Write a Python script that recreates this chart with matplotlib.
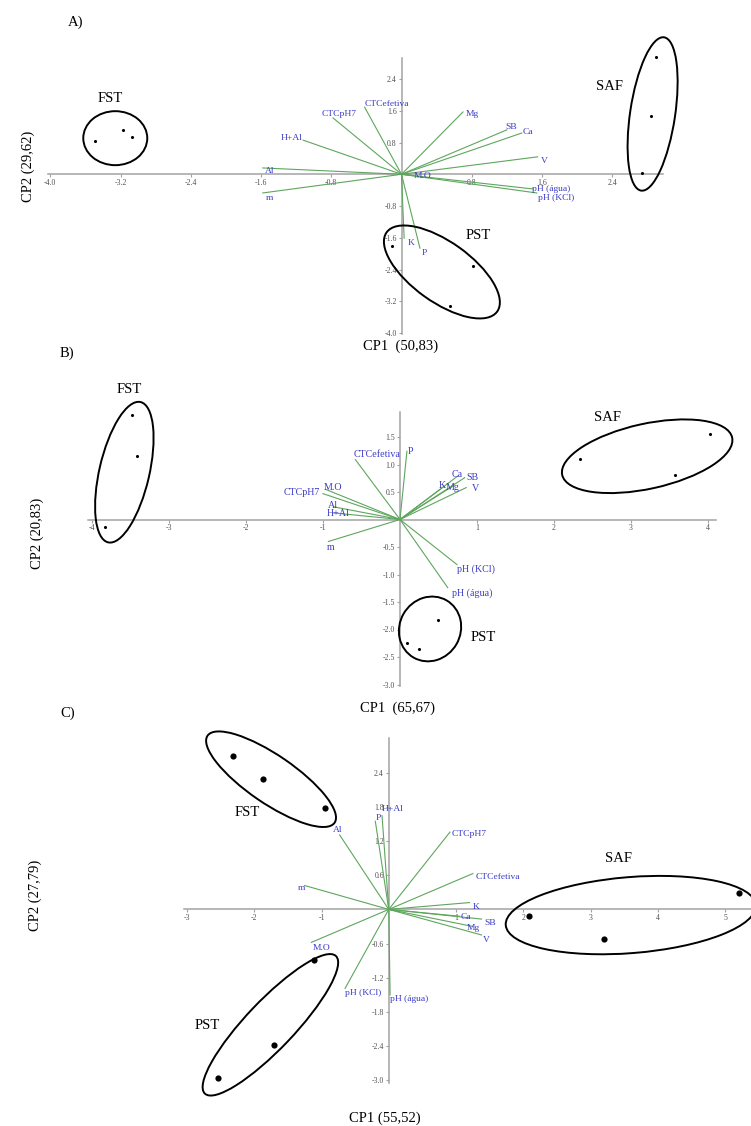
import matplotlib
matplotlib.use('Agg')
import matplotlib.pyplot as plt
from matplotlib.patches import Ellipse
from matplotlib.transforms import ScaledTranslation

plt.rcParams['font.family'] = ['Liberation Serif', 'DejaVu Serif']
plt.rcParams['axes.unicode_minus'] = False

# ---------------- data ----------------
group_names = ['FST', 'SAF', 'PST']
sample_groups = ['FST'] * 3 + ['SAF'] * 3 + ['PST'] * 3

# Panel A
vars_A = ['CTCefetiva', 'CTCpH7', 'H+Al', 'Al', 'm', 'M.O', 'Mg', 'SB', 'Ca', 'V',
          'pH (água)', 'pH (KCl)', 'K', 'P']
load_A_x = [-0.42, -0.78, -1.12, -1.58, -1.58, 0.11, 0.70, 1.20, 1.37, 1.55, 1.50, 1.54, 0.03, 0.21]
load_A_y = [1.69, 1.42, 0.86, 0.16, -0.47, -0.02, 1.57, 1.12, 1.04, 0.44, -0.37, -0.47, -1.61, -1.86]
scores_A_x = [-3.49, -3.17, -3.07, 2.90, 2.84, 2.74, -0.11, 0.81, 0.55]
scores_A_y = [0.84, 1.12, 0.94, 2.95, 1.47, 0.03, -1.81, -2.31, -3.32]
xticks_A = [-4.0, -3.2, -2.4, -1.6, -0.8, 0.8, 1.6, 2.4]
yticks_A = [-4.0, -3.2, -2.4, -1.6, -0.8, 0.8, 1.6, 2.4]

# Panel B
vars_B = ['CTCefetiva', 'P', 'M.O', 'CTCpH7', 'Al', 'H+Al', 'm', 'Ca', 'SB', 'K', 'Mg', 'V',
          'pH (KCl)', 'pH (água)']
load_B_x = [-0.58, 0.09, -0.97, -1.00, -0.86, -0.87, -0.93, 0.74, 0.84, 0.57, 0.70, 0.86, 0.74, 0.62]
load_B_y = [1.09, 1.24, 0.55, 0.47, 0.23, 0.12, -0.40, 0.78, 0.76, 0.60, 0.62, 0.58, -0.82, -1.24]
scores_B_x = [-3.48, -3.42, -3.83, 2.34, 4.03, 3.57, 0.49, 0.09, 0.25]
scores_B_y = [1.90, 1.15, -0.14, 1.10, 1.55, 0.81, -1.83, -2.25, -2.35]
xticks_B = [-4, -3, -2, -1, 1, 2, 3, 4]
yticks_B = [-3.0, -2.5, -2.0, -1.5, -1.0, -0.5, 0.5, 1.0, 1.5]

# Panel C
vars_C = ['H+Al', 'P', 'Al', 'm', 'CTCpH7', 'CTCefetiva', 'K', 'Ca', 'SB', 'Mg', 'V',
          'M.O', 'pH (KCl)', 'pH (água)']
load_C_x = [-0.10, -0.20, -0.73, -1.25, 0.91, 1.25, 1.20, 1.05, 1.38, 1.25, 1.38, -1.15, -0.65, 0.02]
load_C_y = [1.65, 1.55, 1.31, 0.42, 1.36, 0.63, 0.12, -0.12, -0.17, -0.30, -0.45, -0.58, -1.39, -1.50]
scores_C_x = [-2.32, -1.87, -0.95, 2.09, 3.20, 5.21, -1.11, -1.71, -2.54]
scores_C_y = [2.70, 2.29, 1.78, -0.12, -0.52, 0.29, -0.89, -2.39, -2.97]
xticks_C = [-3, -2, -1, 1, 2, 3, 4, 5]
yticks_C = [-3.0, -2.4, -1.8, -1.2, -0.6, 0.6, 1.2, 1.8, 2.4]

# ---------------- layout / style ----------------
W, H = 751, 1126
fig = plt.figure(figsize=(W / 100, H / 100), dpi=100)
fig.patch.set_facecolor('white')

LINE_C = '#5ea65e'
LAB_C = '#3b3bc6'
AXIS_C = '#a3a3a3'
TICK_C = '#505050'

panels = [
    dict(tag='A)', tag_xy=(76, 22), origin=(401.5, 174.3), scale=(87.8, 39.7),
         xlim=(-4.03, 2.98), ylim=(-4.02, 2.93),
         vars=vars_A, lx=load_A_x, ly=load_A_y, sxv=scores_A_x, syv=scores_A_y,
         xt=xticks_A, yt=yticks_A, xfmt='{:.1f}', yfmt='{:.1f}',
         xlabel='CP1  (50,83)', xlabel_xy=(401, 346), ylabel='CP2 (29,62)', ylabel_xy=(28, 166),
         lab_fs=6.8, dot_s=5,
         offs={'CTCefetiva': (0, 3, 'left'), 'CTCpH7': (6, 4, 'center'), 'H+Al': (-1, 2, 'right'),
               'Al': (2, -3, 'left'), 'm': (3, -5, 'left'), 'M.O': (3, -1, 'left'),
               'Mg': (3, -2, 'left'), 'SB': (4, 3, 'center'), 'Ca': (1, 1, 'left'),
               'V': (3, -4, 'left'), 'pH (água)': (-1, 0, 'left'), 'pH (KCl)': (1, -5, 'left'),
               'K': (7, -5, 'center'), 'P': (4, -5, 'center')},
         glab={'FST': (-3.32, 1.92), 'SAF': (2.37, 2.22), 'PST': (0.87, -1.53)},
         ell={'FST': ((-3.26, 0.91), 64, 54, 0), 'SAF': ((2.86, 1.52), 155, 45, 81.5),
              'PST': ((0.46, -2.46), 136, 60, -35.6)}),
    dict(tag='B)', tag_xy=(67, 353), origin=(400, 519.5), scale=(77.0, 55.0),
         xlim=(-4.05, 4.1), ylim=(-3.02, 1.96),
         vars=vars_B, lx=load_B_x, ly=load_B_y, sxv=scores_B_x, syv=scores_B_y,
         xt=xticks_B, yt=yticks_B, xfmt='{:d}', yfmt='{:.1f}',
         xlabel='CP1  (65,67)', xlabel_xy=(398, 708), ylabel='CP2 (20,83)', ylabel_xy=(37, 533),
         lab_fs=7.2, dot_s=5,
         offs={'CTCefetiva': (-2, 5, 'left'), 'P': (1, 0, 'left'), 'M.O': (-2, 2, 'left'),
               'CTCpH7': (-3, 1, 'right'), 'Al': (-1, 1, 'center'), 'H+Al': (5, -1, 'center'),
               'm': (2, -6, 'center'), 'Ca': (0, 2, 'center'), 'SB': (2, 0, 'left'),
               'K': (-2, 1, 'center'), 'Mg': (-1, -2, 'center'), 'V': (9, -1, 'center'),
               'pH (KCl)': (0, -5, 'left'), 'pH (água)': (4, -5, 'left')},
         glab={'FST': (-3.51, 2.37), 'SAF': (2.69, 1.85), 'PST': (1.08, -2.14)},
         ell={'FST': ((-3.58, 0.86), 144, 50, 77), 'SAF': ((3.21, 1.15), 174, 65, 12.4),
              'PST': ((0.39, -1.99), 66, 61, 60)}),
    dict(tag='C)', tag_xy=(68, 713), origin=(388.75, 909.4), scale=(67.25, 56.85),
         xlim=(-3.04, 5.42), ylim=(-3.06, 3.02),
         vars=vars_C, lx=load_C_x, ly=load_C_y, sxv=scores_C_x, syv=scores_C_y,
         xt=xticks_C, yt=yticks_C, xfmt='{:d}', yfmt='{:.1f}',
         xlabel='CP1 (55,52)', xlabel_xy=(385, 1118), ylabel='CP2 (27,79)', ylabel_xy=(35, 895),
         lab_fs=6.8, dot_s=20,
         offs={'H+Al': (0, 7, 'left'), 'P': (3, 3, 'center'), 'Al': (-2, 5, 'center'),
               'm': (-3, -2, 'center'), 'CTCpH7': (2, -2, 'left'), 'CTCefetiva': (3, -3, 'left'),
               'K': (3, -4, 'left'), 'Ca': (1, -1, 'left'), 'SB': (3, -4, 'left'),
               'Mg': (0, -2, 'center'), 'V': (1, -5, 'left'), 'M.O': (1, -6, 'left'),
               'pH (KCl)': (0, -5, 'left'), 'pH (água)': (0, -4, 'left')},
         glab={'FST': (-2.11, 1.70), 'SAF': (3.42, 0.90), 'PST': (-2.70, -2.05)},
         ell={'FST': ((-1.75, 2.29), 154, 48, -34.4), 'SAF': ((3.60, -0.10), 251, 76, 4.6),
              'PST': ((-1.76, -2.03), 190, 48, 46.4)}),
]

for p in panels:
    ox, oy = p['origin']
    sx, sy = p['scale']
    xlim, ylim = p['xlim'], p['ylim']
    left = ox + xlim[0] * sx
    right = ox + xlim[1] * sx
    top = oy - ylim[1] * sy
    bottom = oy - ylim[0] * sy
    ax = fig.add_axes([left / W, 1 - bottom / H, (right - left) / W, (bottom - top) / H])
    ax.set_xlim(xlim)
    ax.set_ylim(ylim)
    ax.patch.set_alpha(0)
    for s in ['top', 'right']:
        ax.spines[s].set_visible(False)
    for s in ['left', 'bottom']:
        ax.spines[s].set_position(('data', 0))
        ax.spines[s].set_color(AXIS_C)
        ax.spines[s].set_linewidth(1.1)
        ax.spines[s].set_zorder(1)
    ax.set_xticks(p['xt'])
    ax.set_xticklabels([p['xfmt'].format(v) for v in p['xt']])
    ax.set_yticks(p['yt'])
    ax.set_yticklabels([p['yfmt'].format(v) for v in p['yt']])
    ax.tick_params(axis='both', direction='out', length=2, width=0.8, color=AXIS_C,
                   labelsize=5.6, labelcolor=TICK_C, pad=1.5)

    # loading vectors
    for name, x, y in zip(p['vars'], p['lx'], p['ly']):
        ax.plot([0, x], [0, y], color=LINE_C, lw=0.8, zorder=2, clip_on=False)
        dx, dy, ha = p['offs'][name]
        ax.annotate(name, (x, y), xytext=(dx, dy), textcoords='offset pixels',
                    ha=ha, va='center', color=LAB_C, fontsize=p['lab_fs'],
                    zorder=4, annotation_clip=False)

    # sample scores
    ax.scatter(p['sxv'], p['syv'], s=p['dot_s'], c='black', zorder=5, clip_on=False,
               linewidths=0)

    # group ellipses and labels
    for g in group_names:
        (cx, cy), w, h, ang = p['ell'][g]
        tr = ScaledTranslation(cx, cy, ax.transData)
        e = Ellipse((0, 0), w, h, angle=ang, transform=tr, fill=False,
                    edgecolor='black', lw=1.4, zorder=3, clip_on=False)
        ax.add_artist(e)
        gx, gy = p['glab'][g]
        ax.text(gx, gy, g, ha='center', va='center', fontsize=10.5, color='black',
                zorder=4, clip_on=False)

    fig.text(p['tag_xy'][0] / W, 1 - p['tag_xy'][1] / H, p['tag'], ha='center', va='center',
             fontsize=10.5)
    fig.text(p['xlabel_xy'][0] / W, 1 - p['xlabel_xy'][1] / H, p['xlabel'], ha='center',
             va='center', fontsize=10.5)
    fig.text(p['ylabel_xy'][0] / W, 1 - p['ylabel_xy'][1] / H, p['ylabel'], ha='center',
             va='center', fontsize=10.5, rotation=90)

fig.savefig('out.png', dpi=100)
